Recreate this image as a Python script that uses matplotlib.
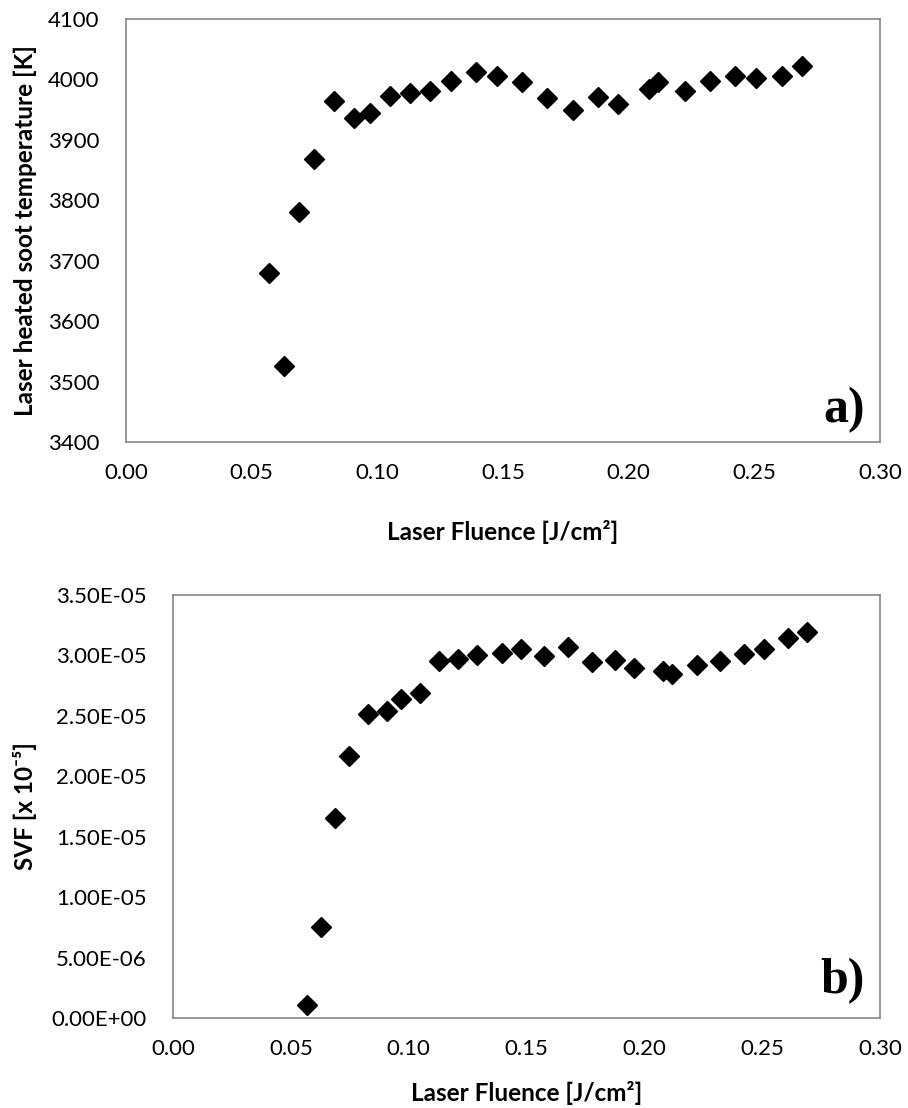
import matplotlib
matplotlib.use("Agg")
import matplotlib.pyplot as plt
from matplotlib.ticker import FuncFormatter, MultipleLocator

plt.rcParams['font.family'] = ['Lato', 'DejaVu Sans']

# Laser fluence [J/cm^2] shared by both panels
fluence = [0.0567, 0.0627, 0.0688, 0.0748, 0.0829, 0.0908, 0.0969, 0.1049,
           0.1130, 0.1211, 0.1292, 0.1394, 0.1476, 0.1575, 0.1675, 0.1780,
           0.1877, 0.1957, 0.2081, 0.2117, 0.2223, 0.2322, 0.2425, 0.2506,
           0.2609, 0.2689]

# Panel a: laser heated soot temperature [K]
temperature = [3680, 3525, 3780, 3869, 3964, 3936, 3944, 3973, 3978, 3981,
               3998, 4013, 4005, 3995, 3969, 3950, 3971, 3959, 3984, 3996,
               3981, 3997, 4005, 4002, 4005, 4023]

# Panel b: soot volume fraction
svf = [1.10e-6, 7.52e-6, 16.55e-6, 21.64e-6, 25.17e-6, 25.40e-6, 26.41e-6,
       26.90e-6, 29.50e-6, 29.74e-6, 30.02e-6, 30.23e-6, 30.52e-6, 29.94e-6,
       30.72e-6, 29.45e-6, 29.59e-6, 28.93e-6, 28.69e-6, 28.49e-6, 29.21e-6,
       29.50e-6, 30.14e-6, 30.52e-6, 31.47e-6, 31.96e-6]

W, H = 908, 1108
fig = plt.figure(figsize=(W / 100, H / 100), dpi=100)


def px_axes(left, top, right, bottom):
    return fig.add_axes([left / W, 1 - bottom / H, (right - left) / W, (bottom - top) / H])


ax_a = px_axes(126, 19, 880, 442)
ax_b = px_axes(173, 595, 880, 1018)

tick_fs = 16
label_fs = 17.5
spine_col = '#868686'

for ax in (ax_a, ax_b):
    for s in ax.spines.values():
        s.set_color(spine_col)
        s.set_linewidth(1.2)
    ax.tick_params(length=0, labelsize=tick_fs, colors='black')
    ax.tick_params(axis='y', pad=19)
    ax.tick_params(axis='x', pad=15)
    ax.set_xlim(0, 0.30)
    ax.xaxis.set_major_locator(MultipleLocator(0.05))
    ax.xaxis.set_major_formatter(FuncFormatter(lambda v, p: f"{v:.2f}"))

# Panel a
ax_a.plot(fluence, temperature, linestyle='none', marker='D', markersize=10,
          color='black')
ax_a.set_ylim(3400, 4100)
ax_a.yaxis.set_major_locator(MultipleLocator(100))
ax_a.yaxis.set_major_formatter(FuncFormatter(lambda v, p: f"{v:.0f}"))
ax_a.set_ylabel('Laser heated soot temperature [K]', fontsize=label_fs,
                fontweight='bold')
ax_a.yaxis.set_label_coords((25 - 126) / 754, 0.5)
ax_a.yaxis.label.set_va('center')
ax_a.set_xlabel('Laser Fluence [J/cm²]', fontsize=label_fs, fontweight='bold')
ax_a.xaxis.set_label_coords(0.5, -(532 - 442) / 423)
ax_a.xaxis.label.set_va('center')
ax_a.text(0.980, 0.047, 'a)', transform=ax_a.transAxes, ha='right',
          va='baseline', fontsize=36, fontweight='bold',
          family='Liberation Serif')

# Panel b
ax_b.plot(fluence, svf, linestyle='none', marker='D', markersize=10,
          color='black')
ax_b.set_ylim(0, 3.5e-5)
ax_b.yaxis.set_major_locator(MultipleLocator(5e-6))
ax_b.yaxis.set_major_formatter(FuncFormatter(lambda v, p: f"{v:.2E}"))
ax_b.set_ylabel('SVF [x 10⁻⁵]', fontsize=label_fs, fontweight='bold')
ax_b.yaxis.set_label_coords((25 - 173) / 707, 0.5)
ax_b.yaxis.label.set_va('center')
ax_b.set_xlabel('Laser Fluence [J/cm²]', fontsize=label_fs, fontweight='bold')
ax_b.xaxis.set_label_coords(0.5, -(1093 - 1018) / 423)
ax_b.xaxis.label.set_va('center')
ax_b.text(0.979, 0.059, 'b)', transform=ax_b.transAxes, ha='right',
          va='baseline', fontsize=36, fontweight='bold',
          family='Liberation Serif')

fig.savefig('out.png', dpi=100)
